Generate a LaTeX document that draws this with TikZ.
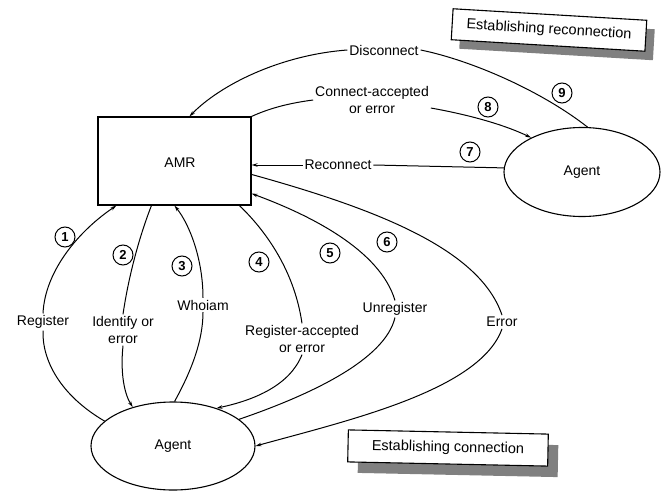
\documentclass[tikz,border=0pt]{standalone}
\usepackage{fontspec}
\setmainfont{Liberation Sans}
\usetikzlibrary{shapes.geometric,arrows.meta,calc}
\begin{document}
\begin{tikzpicture}[x=1pt,y=-1pt, line width=1pt,
 lbl/.style={font=\fontsize{14}{17}\selectfont, inner sep=1.5pt, align=center},
 num/.style={circle, draw, line width=1pt, minimum size=20pt, inner sep=0pt, font=\bfseries\fontsize{13}{13}\selectfont},
 arr/.style={-{Stealth[length=6pt,width=3.5pt]}},
 agentnode/.style={ellipse, draw, line width=1.1pt, inner sep=0pt, font=\fontsize{14}{17}\selectfont},
 titlebox/.style={draw, fill=white, line width=1.1pt, inner sep=0pt, font=\fontsize{14.5}{17}\selectfont},
 shadowbox/.style={fill=black!50, inner sep=0pt}]

\useasboundingbox (0,0) rectangle (669,492);

% AMR box
\node[draw, line width=1.1pt, minimum width=153pt, minimum height=88pt, inner sep=0pt] (amr) at (174.5,161) {};
\node[lbl] (amrt) at (180,163) {AMR};

% Agents
\node[agentnode, minimum width=156pt, minimum height=89pt] (agR) at (582,172) {Agent};
\node[agentnode, minimum width=164pt, minimum height=88pt] (agB) at (173,446) {Agent};

% Title boxes
\node[shadowbox, minimum width=194pt, minimum height=31pt, rotate=-3.4] (s1) at (557,39) {};
\node[titlebox, minimum width=194pt, minimum height=31pt, rotate=-3.4] (t1) at (549,30) {Establishing reconnection};
\node[shadowbox, minimum width=200pt, minimum height=32pt, rotate=-1.2] (s2) at (458,459) {};
\node[titlebox, minimum width=200pt, minimum height=32pt, rotate=-1.2] (t2) at (448,448) {Establishing connection};

% Labels
\node[lbl] (ldis) at (384,50) {Disconnect};
\node[lbl] (lca) at (372,100) {Connect-accepted\\or error};
\node[lbl] (lrec) at (338,165) {Reconnect};
\node[lbl] (lreg) at (43,322) {Register};
\node[lbl] (lid) at (123,330) {Identify or\\error};
\node[lbl] (lwho) at (203,305) {Whoiam};
\node[lbl] (lra) at (302,339) {Register-accepted\\or error};
\node[lbl] (lun) at (395,309) {Unregister};
\node[lbl] (lerr) at (502,322) {Error};

% Numbers
\node[num] (n1) at (65,237) {1};
\node[num] (n2) at (123,255) {2};
\node[num] (n3) at (182,266) {3};
\node[num] (n4) at (259,262) {4};
\node[num] (n5) at (330,253) {5};
\node[num] (n6) at (387,242) {6};
\node[num] (n7) at (470,152) {7};
\node[num] (n8) at (488,107) {8};
\node[num] (n9) at (562,93) {9};

% 9 Disconnect
\draw (agR.83) .. controls (540,90) and (470,60) .. (ldis.east);
\draw[arr] (ldis.west) .. controls (280,55) and (220,85) .. ($(amr.north west)+(92,0)$);
% 8 Connect-accepted
\draw (amr.north east) .. controls (270,108) and (290,103) .. (lca.west);
\draw[arr] ($(lca.east)+(0,8)$) .. controls (470,115) and (505,125) .. (agR.146);
% 7 Reconnect
\draw (agR.177) -- (lrec.east);
\draw[arr] (lrec.west) -- (amr.east |- lrec.west);
% 1 Register
\draw (agB.160) .. controls (60,395) and (42,360) .. (lreg.south);
\draw[arr] (lreg.north) .. controls (45,270) and (80,230) .. ($(amr.south west)+(19,0)$);
% 2 Identify
\draw ($(amr.south west)+(54,0)$) .. controls (138,240) and (128,280) .. (lid.north);
\draw[arr] (lid.south) .. controls (120,375) and (125,395) .. (agB.136);
% 3 Whoiam
\draw (agB.88) .. controls (192,370) and (203,340) .. (lwho.south);
\draw[arr] (lwho.north) .. controls (203,260) and (190,225) .. ($(amr.south west)+(77,0)$);
% 4 Register-accepted
\draw ($(amr.south west)+(142,0)$) .. controls (270,235) and (295,275) .. (lra.north);
\draw[arr] (lra.south) .. controls (290,385) and (255,400) .. (agB.41);
% 5 Unregister
\draw (agB.22) .. controls (310,395) and (385,360) .. (lun.south);
\draw[arr] (lun.north) .. controls (380,250) and (310,215) .. ($(amr.south east)+(0,-12)$);
% 6 Error
\draw ($(amr.north east)+(0,58)$) .. controls (380,210) and (480,250) .. (lerr.north);
\draw[arr] (lerr.south) .. controls (480,390) and (350,420) .. (agB.0);
\end{tikzpicture}
\end{document}
